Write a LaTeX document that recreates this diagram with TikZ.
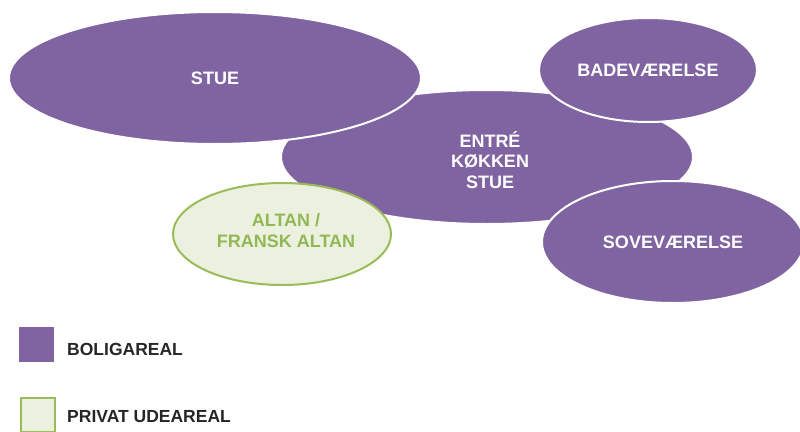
\documentclass[tikz,border=0pt]{standalone}
\usepackage{fontspec}
\setmainfont{Liberation Sans}
\usetikzlibrary{shapes.geometric}
\definecolor{purp}{HTML}{8064A2}
\definecolor{gfill}{HTML}{EBF1DE}
\definecolor{gline}{HTML}{9BBB59}
\definecolor{gtext}{HTML}{92B856}
\definecolor{dtext}{HTML}{262626}
\begin{document}
\begin{tikzpicture}[x=1pt,y=-1pt,
  room/.style={ellipse,fill=purp,draw=white,line width=2pt,text=white,font=\bfseries\fontsize{18}{21}\selectfont,align=center,inner sep=0pt},
  green/.style={ellipse,fill=gfill,draw=gline,line width=2pt,text=gtext,font=\bfseries\fontsize{18}{21}\selectfont,align=center,inner sep=0pt},
  legtext/.style={anchor=west,text=dtext,font=\bfseries\fontsize{17.5}{20}\selectfont,inner sep=0pt}]
\useasboundingbox (0,0) rectangle (800,431);
\node[room,minimum width=412pt,minimum height=134pt] (mid) at (487,157) {};
\node[text=white,font=\bfseries\fontsize{18}{20.5}\selectfont,align=center] (midt) at (490,160) {ENTRÉ\\KØKKEN\\STUE};
\node[room,minimum width=412pt,minimum height=132pt] (stue) at (215,78) {STUE};
\node[room,minimum width=218pt,minimum height=104pt] (bad) at (648,70) {BADEVÆRELSE};
\node[room,minimum width=262pt,minimum height=122pt] (sove) at (673,242) {SOVEVÆRELSE};
\node[green,minimum width=218pt,minimum height=102pt] (altan) at (282,234) {};
\node[text=gtext,font=\bfseries\fontsize{18}{21}\selectfont,align=center] (altant) at (286,231) {ALTAN /\\FRANSK ALTAN};
\node[fill=purp,minimum size=35pt,inner sep=0pt] (lp) at (36.5,344.5) {};
\node[legtext] (lpt) at (67,349) {BOLIGAREAL};
\node[fill=gfill,draw=gline,line width=2pt,minimum size=34pt,inner sep=0pt] (lg) at (37.5,414.5) {};
\node[legtext] (lgt) at (67,417) {PRIVAT UDEAREAL};
\end{tikzpicture}
\end{document}
